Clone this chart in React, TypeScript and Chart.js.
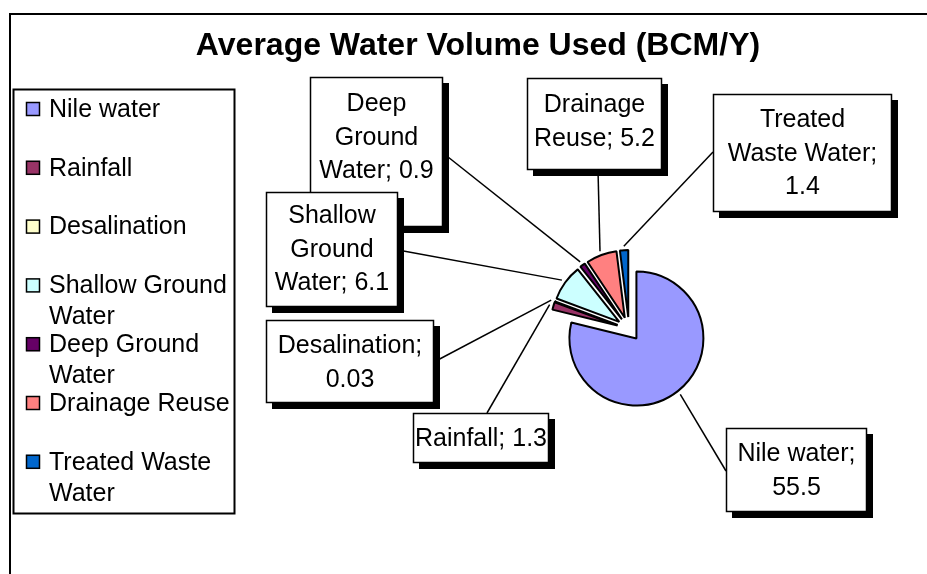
import React, { useEffect, useRef } from 'react';
import { Chart, registerables } from 'chart.js';

Chart.register(...registerables);

// ---- data ----
const categories = [
  'Nile water',
  'Rainfall',
  'Desalination',
  'Shallow Ground Water',
  'Deep Ground Water',
  'Drainage Reuse',
  'Treated Waste Water',
];
const volumes = [55.5, 1.3, 0.03, 6.1, 0.9, 5.2, 1.4];
const sliceColors = ['#9999FF', '#993366', '#FFFFCC', '#CCFFFF', '#660066', '#FF8080', '#0066CC'];
const titleText = 'Average Water Volume Used (BCM/Y)';

// ---- layout (label boxes, not data) ----
const FONT = '"Liberation Sans", Arial, Helvetica, sans-serif';
const EXPLODE = 12;
const calloutLayout = [
  { x: 726, y: 428, w: 141, h: 84, wrapW: 125, ax: 726, ay: 471, ty: 471 },
  { x: 413, y: 413, w: 136, h: 50, wrapW: 200, ax: 487, ay: 413, ty: 439 },
  { x: 266, y: 320, w: 168, h: 83, wrapW: 150, ax: 434, ay: 362, ty: 363 },
  { x: 266, y: 192, w: 132, h: 115, wrapW: 125, ax: 398, ay: 250, ty: 250 },
  { x: 310, y: 77, w: 133, h: 150, wrapW: 125, ax: 443, ay: 153, ty: 138 },
  { x: 527, y: 78, w: 135, h: 92, wrapW: 128, ax: 598, ay: 170, ty: 122 },
  { x: 713, y: 94, w: 179, h: 118, wrapW: 155, ax: 713, ay: 152, ty: 154 },
];
const drawOrder = [6, 5, 4, 3, 2, 1, 0];

function wrap(ctx: CanvasRenderingContext2D, text: string, maxW: number): string[] {
  const words = text.split(' ');
  const lines: string[] = [];
  let cur = '';
  for (const w of words) {
    const t = cur ? cur + ' ' + w : w;
    if (cur && ctx.measureText(t).width > maxW) {
      lines.push(cur);
      cur = w;
    } else {
      cur = t;
    }
  }
  if (cur) lines.push(cur);
  return lines;
}

const backgroundPlugin = {
  id: 'bgFrame',
  beforeDraw(chart: any) {
    const ctx: CanvasRenderingContext2D = chart.ctx;
    ctx.save();
    ctx.fillStyle = '#ffffff';
    ctx.fillRect(0, 0, chart.width, chart.height);
    // outer frame (left and top)
    ctx.strokeStyle = '#000';
    ctx.lineWidth = 2;
    ctx.beginPath();
    ctx.moveTo(10, chart.height + 2);
    ctx.lineTo(10, 14);
    ctx.lineTo(chart.width + 2, 14);
    ctx.stroke();
    // title
    ctx.fillStyle = '#000';
    ctx.font = `bold 32px ${FONT}`;
    ctx.textAlign = 'center';
    ctx.textBaseline = 'middle';
    ctx.fillText(titleText, 478, 46);
    // legend
    ctx.lineWidth = 2;
    ctx.strokeRect(13.5, 89.5, 221, 424);
    ctx.font = `25px ${FONT}`;
    ctx.textAlign = 'left';
    const labels: string[] = chart.data.labels;
    const colors: string[] = chart.data.datasets[0].backgroundColor;
    labels.forEach((lab, i) => {
      const cy = 109 + i * 58.8;
      ctx.fillStyle = colors[i];
      ctx.fillRect(26, cy - 7, 14, 14);
      ctx.lineWidth = 1.5;
      ctx.strokeStyle = '#000';
      ctx.strokeRect(26.5, cy - 6.5, 13, 13);
      ctx.fillStyle = '#000';
      const lines = wrap(ctx, lab, 186);
      lines.forEach((ln, k) => ctx.fillText(ln, 49, cy + 1 + k * 31));
    });
    ctx.restore();
  },
};

const explodePlugin = {
  id: 'explode',
  afterDatasetsUpdate(chart: any) {
    const meta = chart.getDatasetMeta(0);
    meta.data.forEach((arc: any) => {
      const mid = (arc.startAngle + arc.endAngle) / 2;
      arc.x += Math.cos(mid) * EXPLODE;
      arc.y += Math.sin(mid) * EXPLODE;
    });
  },
};

const calloutPlugin = {
  id: 'callouts',
  afterDatasetsDraw(chart: any) {
    const ctx: CanvasRenderingContext2D = chart.ctx;
    const meta = chart.getDatasetMeta(0);
    const values: number[] = chart.data.datasets[0].data;
    const labels: string[] = chart.data.labels;
    ctx.save();
    // leader lines
    ctx.strokeStyle = '#000';
    ctx.lineWidth = 1.5;
    meta.data.forEach((arc: any, i: number) => {
      const mid = (arc.startAngle + arc.endAngle) / 2;
      const r = arc.outerRadius + 4;
      const px = arc.x + Math.cos(mid) * r;
      const py = arc.y + Math.sin(mid) * r;
      const L = calloutLayout[i];
      ctx.beginPath();
      ctx.moveTo(px, py);
      ctx.lineTo(L.ax, L.ay);
      ctx.stroke();
    });
    // boxes
    ctx.font = `25px ${FONT}`;
    ctx.textAlign = 'center';
    ctx.textBaseline = 'middle';
    drawOrder.forEach((i) => {
      const L = calloutLayout[i];
      ctx.fillStyle = '#000';
      ctx.fillRect(L.x + 6, L.y + 6, L.w, L.h);
      ctx.fillStyle = '#fff';
      ctx.fillRect(L.x, L.y, L.w, L.h);
      ctx.lineWidth = 1.5;
      ctx.strokeStyle = '#000';
      ctx.strokeRect(L.x + 0.5, L.y + 0.5, L.w - 1, L.h - 1);
      ctx.fillStyle = '#000';
      const text = `${labels[i]}; ${String(values[i])}`;
      const lines = wrap(ctx, text, L.wrapW);
      const lh = 33.5;
      const cx = L.x + L.w / 2;
      lines.forEach((ln, k) => {
        ctx.fillText(ln, cx, L.ty + (k - (lines.length - 1) / 2) * lh);
      });
    });
    ctx.restore();
  },
};

export default function App() {
  const ref = useRef<HTMLCanvasElement>(null);
  useEffect(() => {
    const canvas = ref.current;
    if (!canvas) return;
    const chart = new Chart(canvas, {
      type: 'pie',
      data: {
        labels: categories,
        datasets: [
          {
            data: volumes,
            backgroundColor: sliceColors,
            borderColor: '#000000',
            borderWidth: 2,
            hoverBorderWidth: 2,
            hoverOffset: 0,
            offset: 0,
          },
        ],
      },
      options: {
        responsive: false,
        animation: false,
        events: [],
        layout: { padding: { left: 561, right: 230, top: 261, bottom: 177 } },
        plugins: {
          legend: { display: false },
          title: { display: false },
          tooltip: { enabled: false },
        },
      },
      plugins: [backgroundPlugin, explodePlugin, calloutPlugin],
    } as any);
    return () => chart.destroy();
  }, []);
  return (
    <div style={{ position: 'fixed', left: 0, top: 0, width: 927, height: 574, background: '#fff' }}>
      <canvas ref={ref} width={927} height={574} style={{ display: 'block', width: 927, height: 574 }} />
    </div>
  );
}
